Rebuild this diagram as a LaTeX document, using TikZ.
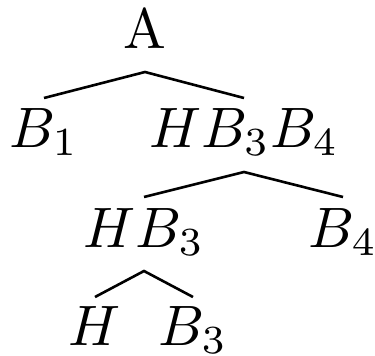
\documentclass[tikz,border=0pt]{standalone}
\begin{document}
\begin{tikzpicture}[x=1pt,y=-1pt,
  lbl/.style={anchor=base,inner sep=0pt,scale=5.7},
  edge/.style={line width=2.6pt}]
\useasboundingbox (0,0) rectangle (375,356);
\node[lbl] (A) at (145,48) {A};
\node[lbl] (B1) at (44,147) {$B_1$};
\node[lbl] (HBB) at (244,147) {$HB_3B_4$};
\node[lbl] (HB) at (144,247) {$HB_3$};
\node[lbl] (B4) at (343,247) {$B_4$};
\node[lbl] (H) at (95,345) {$H$};
\node[lbl] (B3) at (193,345) {$B_3$};
\draw[edge] ([yshift=49pt]B1.base) -- ([yshift=-24pt]A.base) -- ([yshift=49pt]HBB.base);
\draw[edge] ([yshift=50pt]HB.base) -- ([yshift=-25pt]HBB.base) -- ([yshift=50pt]B4.base);
\draw[edge] ([yshift=48pt]H.base) -- ([yshift=-24pt]HB.base) -- ([yshift=48pt]B3.base);
\end{tikzpicture}
\end{document}
